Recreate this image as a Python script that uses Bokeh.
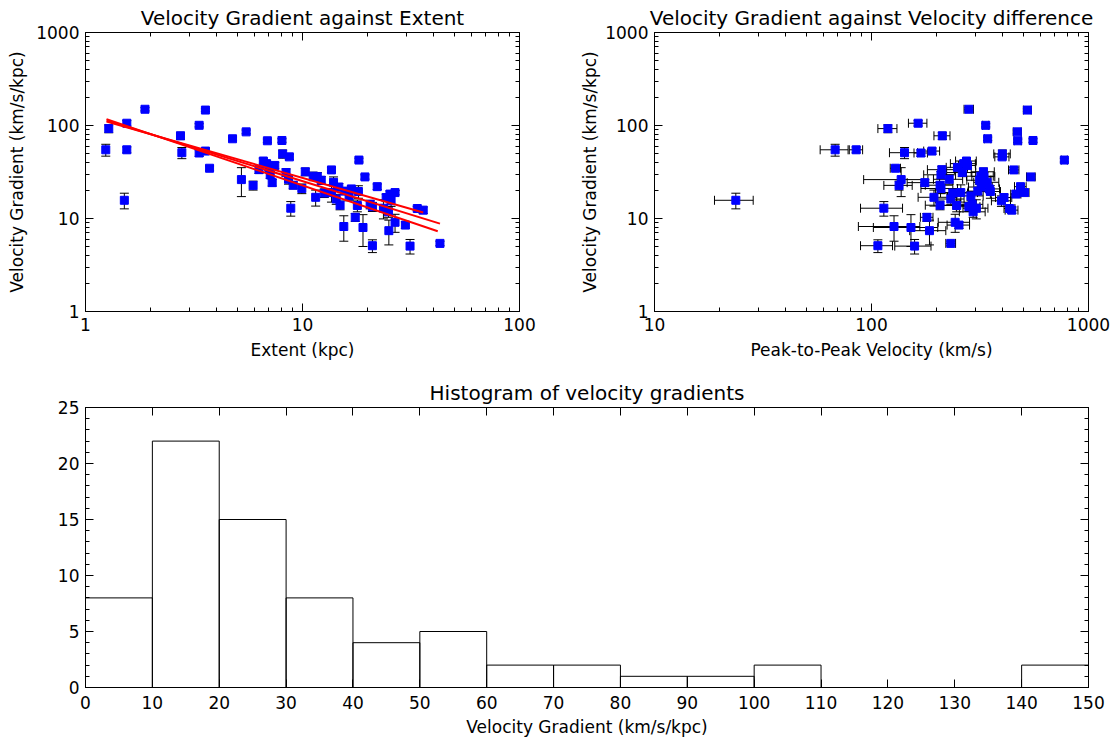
from bokeh.plotting import figure
from bokeh.models import (Range1d, LogAxis, LinearAxis, FixedTicker, NumeralTickFormatter,
                          Whisker, ColumnDataSource, TeeHead)
from bokeh.layouts import column, row
from bokeh.embed import file_html
from bokeh.resources import INLINE

# ---------------- data ----------------
extent = [1.24, 1.28, 1.51, 1.55, 1.55, 1.88, 2.74, 2.78, 3.34, 3.57,
          3.34, 3.57, 3.73, 4.76, 5.23, 5.5, 5.92, 6.89, 6.6, 6.83,
          7.45, 6.3, 7.0, 7.25, 8.04, 8.1, 8.7, 8.4, 8.62, 9.06,
          9.93, 10.3, 11.2, 11.7, 11.5, 8.83, 13.6, 13.9, 13.6, 14.3,
          14.9, 15.5, 17.5, 19.0, 21.0, 18.2, 19.4, 22.1, 18.1, 17.9,
          21.0, 15.7, 25.3, 26.7, 25.6, 23.6, 12.6, 25.0, 26.7, 29.8,
          33.8, 36.0, 31.3, 43.0, 24.9, 16.4, 24.3, 20.5, 7.1, 12.2,
          14.7, 16.8]
gradient = [54.8, 92.6, 15.7, 105.8, 54.8, 149.5, 77.5, 51.0, 100.5, 146.5,
            50.6, 53.1, 34.7, 72.0, 26.2, 85.4, 22.7, 68.5, 41.5, 38.9,
            37.2, 33.5, 35.5, 24.3, 69.0, 49.5, 46.0, 31.2, 26.4, 22.8,
            21.0, 31.8, 28.5, 28.2, 16.9, 12.9, 33.3, 24.5, 19.0, 16.2,
            13.9, 8.2, 10.3, 8.0, 5.1, 42.5, 28.0, 22.0, 19.5, 13.8,
            13.4, 19.7, 18.3, 19.0, 15.5, 12.9, 18.8, 7.4, 9.1, 8.5,
            12.8, 12.3, 5.05, 5.4, 11.8, 17.5, 16.8, 14.2, 29.5, 25.8,
            21.8, 20.8]
gradient_err = [8, 9, 3, 7, 4, 6, 7, 7, 4, 5,
                4, 4, 2, 3, 9, 4, 2.5, 3, 3, 3,
                3, 3, 3, 2, 3, 5, 3, 3, 3, 2,
                2.5, 3, 3, 3, 3.3, 2.3, 2, 3.5, 4, 2,
                1.5, 2.5, 1, 3, 0.8, 2, 1.5, 1.5, 3, 2,
                1.5, 1.5, 1.5, 1, 2, 3, 2, 2.2, 2, 0.7,
                0.7, 1, 0.9, 0.3, 1.5, 2, 1.5, 1.5, 2.5, 2.5,
                2, 1.5]
velocity = [68, 119, 23.7, 164, 85, 281, 212, 142, 336, 523,
            169, 190, 129, 343, 137, 470, 134, 472, 274, 266,
            277, 211, 249, 176, 555, 401, 400, 262, 228, 207,
            209, 328, 319, 330, 194, 114, 453, 341, 258, 232,
            207, 127, 180, 152, 107, 774, 543, 486, 353, 247,
            281, 309, 463, 507, 397, 304, 237, 185, 243, 253,
            433, 443, 158, 232, 294, 287, 408, 291, 209, 315,
            320, 349]
velocity_err = [10, 12, 4.8, 16, 6, 14, 18, 21, 11, 22,
                12, 16, 7, 12, 45, 20, 20, 18, 30, 35,
                25, 30, 28, 30, 18, 35, 30, 40, 35, 30,
                40, 40, 45, 40, 30, 25, 25, 45, 50, 35,
                30, 40, 12, 50, 18, 25, 25, 30, 40, 35,
                35, 30, 25, 25, 40, 40, 40, 35, 40, 30,
                25, 30, 30, 12, 40, 40, 35, 35, 35, 40,
                40, 40]

fit_extent = [[1.25, 36.0], [1.25, 43.0], [1.25, 42.0]]
fit_gradient = [[110.0, 11.6], [113.0, 8.8], [117.0, 7.3]]

bin_left = [0, 10, 20, 30, 40, 50, 60, 70, 80, 90, 100, 110, 120, 130, 140]
bin_right = [10, 20, 30, 40, 50, 60, 70, 80, 90, 100, 110, 120, 130, 140, 150]
bin_counts = [8, 22, 15, 8, 4, 5, 2, 2, 1, 1, 2, 0, 0, 0, 2]

log_ticks_y = [1, 10, 100, 1000]
log_ticks_x1 = [1, 10, 100]
log_ticks_x2 = [10, 100, 1000]
hist_x_ticks = [0, 10, 20, 30, 40, 50, 60, 70, 80, 90, 100, 110, 120, 130, 140, 150]
hist_y_ticks = [0, 5, 10, 15, 20, 25]

FONT = "DejaVu Sans"
TICK_SIZE = "17px"
LABEL_SIZE = "17px"
TITLE_SIZE = "20px"


def log_minor(lo, hi):
    out = []
    d = lo
    while d < hi:
        out += [m * d for m in range(2, 10)]
        d *= 10
    return out


def style_axis(ax, ticker, fmt=None, show_labels=True):
    ax.ticker = ticker
    if fmt is not None:
        ax.formatter = fmt
    ax.major_tick_in = 8
    ax.major_tick_out = 0
    ax.minor_tick_in = 4
    ax.minor_tick_out = 0
    ax.axis_line_color = "black"
    ax.major_tick_line_color = "black"
    ax.minor_tick_line_color = "black"
    ax.major_label_text_font = FONT
    ax.major_label_text_color = "black"
    ax.axis_label_text_font = FONT
    ax.axis_label_text_font_style = "normal"
    ax.axis_label_text_color = "black"
    ax.axis_label_text_font_size = LABEL_SIZE
    if show_labels:
        ax.major_label_text_font_size = TICK_SIZE
        ax.major_label_standoff = 6
    else:
        ax.major_label_text_font_size = "1px"
        ax.major_label_text_alpha = 0
        ax.major_label_standoff = 0


def base_fig(width, height, xtype, ytype, xr, yr, title, borders):
    p = figure(width=width, height=height, x_axis_type=xtype, y_axis_type=ytype,
               x_range=Range1d(*xr), y_range=Range1d(*yr),
               output_backend="svg", toolbar_location=None,
               min_border_left=borders[0], min_border_right=borders[1],
               min_border_top=borders[2], min_border_bottom=borders[3])
    p.title.text = title
    p.title.align = "center"
    p.title.text_font = FONT
    p.title.text_font_size = TITLE_SIZE
    p.title.text_font_style = "normal"
    p.title.text_color = "black"
    p.title.standoff = 6
    p.grid.visible = False
    p.outline_line_color = "black"
    p.outline_line_width = 1
    p.background_fill_color = "white"
    p.border_fill_color = "white"
    return p


def scatter_panel(p, xs, xerr=None):
    src = ColumnDataSource(dict(
        x=xs, y=gradient,
        ylo=[g - e for g, e in zip(gradient, gradient_err)],
        yhi=[g + e for g, e in zip(gradient, gradient_err)],
    ))
    if xerr is not None:
        src.data["xlo"] = [v - e for v, e in zip(xs, xerr)]
        src.data["xhi"] = [v + e for v, e in zip(xs, xerr)]
        wx = Whisker(source=src, base="y", lower="xlo", upper="xhi", dimension="width",
                     line_color="black", line_width=1,
                     lower_head=TeeHead(size=9, line_color="black", line_width=1),
                     upper_head=TeeHead(size=9, line_color="black", line_width=1),
                     level="underlay")
        p.add_layout(wx)
    wy = Whisker(source=src, base="x", lower="ylo", upper="yhi", dimension="height",
                 line_color="black", line_width=1,
                 lower_head=TeeHead(size=9, line_color="black", line_width=1),
                 upper_head=TeeHead(size=9, line_color="black", line_width=1),
                 level="underlay")
    p.add_layout(wy)
    p.scatter("x", "y", source=src, marker="square", size=8,
              fill_color="#0000ff", line_color="#0000ff")


# ---------------- panel 1 ----------------
p1 = base_fig(558, 370, "log", "log", (1, 100), (1, 1000),
              "Velocity Gradient against Extent", (85, 39, 32, 59))
scatter_panel(p1, extent)
p1.multi_line(xs=fit_extent, ys=fit_gradient, line_color="#ff0000", line_width=2)
style_axis(p1.xaxis[0], FixedTicker(ticks=log_ticks_x1, minor_ticks=log_minor(1, 100)),
           NumeralTickFormatter(format="0"))
style_axis(p1.yaxis[0], FixedTicker(ticks=log_ticks_y, minor_ticks=log_minor(1, 1000)),
           NumeralTickFormatter(format="0"))
p1.xaxis[0].axis_label = "Extent (kpc)"
p1.yaxis[0].axis_label = "Velocity Gradient (km/s/kpc)"
p1.yaxis[0].axis_label_standoff = 6
p1.xaxis[0].axis_label_standoff = 6
ax = LogAxis()
style_axis(ax, FixedTicker(ticks=log_ticks_x1, minor_ticks=log_minor(1, 100)), show_labels=False)
p1.add_layout(ax, "above")
ay = LogAxis()
style_axis(ay, FixedTicker(ticks=log_ticks_y, minor_ticks=log_minor(1, 1000)), show_labels=False)
p1.add_layout(ay, "right")

# ---------------- panel 2 ----------------
p2 = base_fig(557, 370, "log", "log", (10, 1000), (1, 1000),
              "Velocity Gradient against Velocity difference", (96, 27, 32, 59))
scatter_panel(p2, velocity, velocity_err)
style_axis(p2.xaxis[0], FixedTicker(ticks=log_ticks_x2, minor_ticks=log_minor(10, 1000)),
           NumeralTickFormatter(format="0"))
style_axis(p2.yaxis[0], FixedTicker(ticks=log_ticks_y, minor_ticks=log_minor(1, 1000)),
           NumeralTickFormatter(format="0"))
p2.xaxis[0].axis_label = "Peak-to-Peak Velocity (km/s)"
p2.yaxis[0].axis_label = "Velocity Gradient (km/s/kpc)"
p2.yaxis[0].axis_label_standoff = 2
p2.xaxis[0].axis_label_standoff = 6
bx = LogAxis()
style_axis(bx, FixedTicker(ticks=log_ticks_x2, minor_ticks=log_minor(10, 1000)), show_labels=False)
p2.add_layout(bx, "above")
by = LogAxis()
style_axis(by, FixedTicker(ticks=log_ticks_y, minor_ticks=log_minor(1, 1000)), show_labels=False)
p2.add_layout(by, "right")

# ---------------- panel 3 (histogram) ----------------
p3 = base_fig(1116, 372, "linear", "linear", (0, 150), (0, 25),
              "Histogram of velocity gradients", (85, 28, 37, 55))
p3.quad(left=bin_left, right=bin_right, bottom=0, top=bin_counts,
        fill_color=None, line_color="black", line_width=1)
hy_minor = [v for v in range(0, 26) if v % 5 != 0]
style_axis(p3.xaxis[0], FixedTicker(ticks=hist_x_ticks, minor_ticks=[]))
style_axis(p3.yaxis[0], FixedTicker(ticks=hist_y_ticks, minor_ticks=hy_minor))
p3.xaxis[0].axis_label = "Velocity Gradient (km/s/kpc)"
p3.xaxis[0].major_label_standoff = 8
p3.xaxis[0].axis_label_standoff = 5
cx = LinearAxis()
style_axis(cx, FixedTicker(ticks=hist_x_ticks, minor_ticks=[]), show_labels=False)
p3.add_layout(cx, "above")
cy = LinearAxis()
style_axis(cy, FixedTicker(ticks=hist_y_ticks, minor_ticks=hy_minor), show_labels=False)
p3.add_layout(cy, "right")

layout = column(row(p1, p2), p3)
open("out.html", "w").write(file_html(layout, INLINE))
